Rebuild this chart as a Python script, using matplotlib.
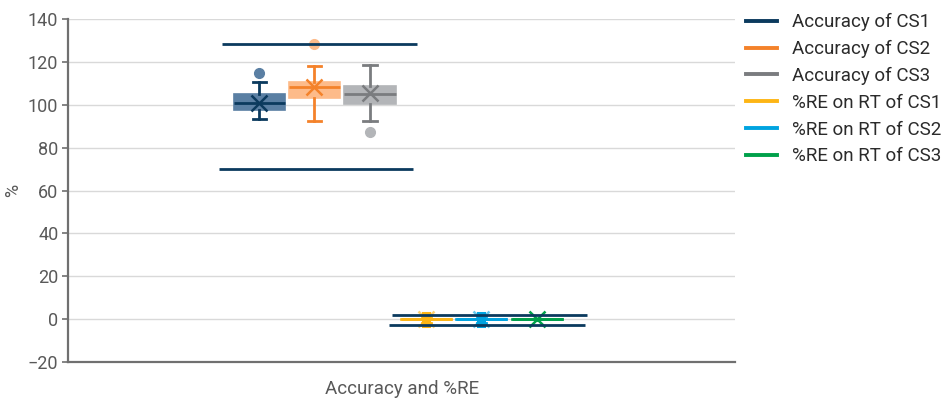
import matplotlib
matplotlib.use("Agg")
import matplotlib.pyplot as plt
from matplotlib.lines import Line2D

plt.rcParams['font.family'] = ['Roboto', 'DejaVu Sans']

series = ["Accuracy of CS1", "Accuracy of CS2", "Accuracy of CS3",
          "%RE on RT of CS1", "%RE on RT of CS2", "%RE on RT of CS3"]
colors = ["#0b3a5e", "#f4822a", "#7a7c7f", "#fdb515", "#00a3e0", "#00a04a"]
fills = ["#5a7fa3", "#fdbb8a", "#b3b5b8", "#fdb515", "#00a3e0", "#00a04a"]

whislo = [93.5, 92.4, 92.4, -1.6, -1.6, 0.0]
q1 = [97.5, 103.0, 100.6, -0.2, -0.2, -0.2]
median = [100.8, 108.1, 105.0, 0.0, 0.0, 0.0]
q3 = [105.1, 110.7, 108.6, 0.2, 0.2, 0.2]
whishi = [110.7, 118.0, 118.7, 1.6, 1.6, 0.0]
mean = [101.0, 108.4, 105.3, 0.0, 0.0, 0.0]
fliers = [[114.9], [128.3], [87.3], [], [], []]

# acceptance limits: (low, high) for accuracy group and %RE group
acc_limits = [70.0, 128.5]
re_limits = [-2.7, 2.0]

positions = [-2.48, -1.49, -0.49, 0.52, 1.51, 2.52]

fig = plt.figure(figsize=(9.45, 3.98), dpi=100)
ax = fig.add_axes([0.072, 0.0905, 0.706, 0.8615])

ax.set_xlim(-5.92, 6.08)
ax.set_ylim(-20, 140)
ax.set_yticks(range(-20, 141, 20))
ax.yaxis.grid(True, color="#d9d9d9", linewidth=1)
ax.set_axisbelow(True)

for i in range(6):
    st = dict(med=median[i], q1=q1[i], q3=q3[i], whislo=whislo[i],
              whishi=whishi[i], mean=mean[i], fliers=fliers[i])
    c = colors[i]
    small = i >= 3
    thick = i in (3, 4)
    ax.bxp([st], positions=[positions[i]], widths=0.92, patch_artist=True,
           showmeans=True, showfliers=True,
           boxprops=dict(facecolor=fills[i], edgecolor=c if small else fills[i],
                         linewidth=1.2),
           medianprops=dict(color=c, linewidth=2),
           whiskerprops=dict(color=c, linewidth=6.5 if thick else 2),
           capprops=dict(color=c, linewidth=2 if not small else (2 if thick else 0)),
           capwidths=0.16 if small else 0.24,
           meanprops=dict(marker="x", markeredgecolor=c, markersize=11,
                          markeredgewidth=1.8, alpha=0.6 if thick else 1.0),
           flierprops=dict(marker="o", markerfacecolor=fills[i],
                           markeredgecolor=fills[i], markersize=7))

# limit lines for each group
ax.hlines(acc_limits[1], -3.15, 0.35, color=colors[0], linewidth=2, zorder=4)
ax.hlines(acc_limits[0], -3.2, 0.28, color=colors[0], linewidth=2, zorder=4)
ax.hlines(re_limits[1], -0.1, 3.42, color=colors[0], linewidth=2, zorder=4)
ax.hlines(re_limits[0], -0.15, 3.38, color=colors[0], linewidth=2, zorder=4)

for s in ["top", "right"]:
    ax.spines[s].set_visible(False)
for s in ["left", "bottom"]:
    ax.spines[s].set_color("#707070")
    ax.spines[s].set_linewidth(1.6)

ax.set_xticks([])
ax.tick_params(axis="y", colors="#707070", labelcolor="#595959",
               labelsize=13, length=4, width=1.2, pad=3)
ax.set_ylabel("%", color="#595959", fontsize=13, labelpad=4)
ax.set_xlabel("Accuracy and %RE", color="#595959", fontsize=13.5, labelpad=13)

handles = [Line2D([0], [0], color=c, linewidth=2.8) for c in colors]
leg = fig.legend(handles, series, loc="upper left", bbox_to_anchor=(0.776, 1.0),
                 frameon=False, fontsize=13.5, handlelength=1.65, handletextpad=0.8,
                 labelspacing=0.47, labelcolor="#2b2b2b", borderaxespad=0.3)

fig.savefig("out.png", dpi=100)
